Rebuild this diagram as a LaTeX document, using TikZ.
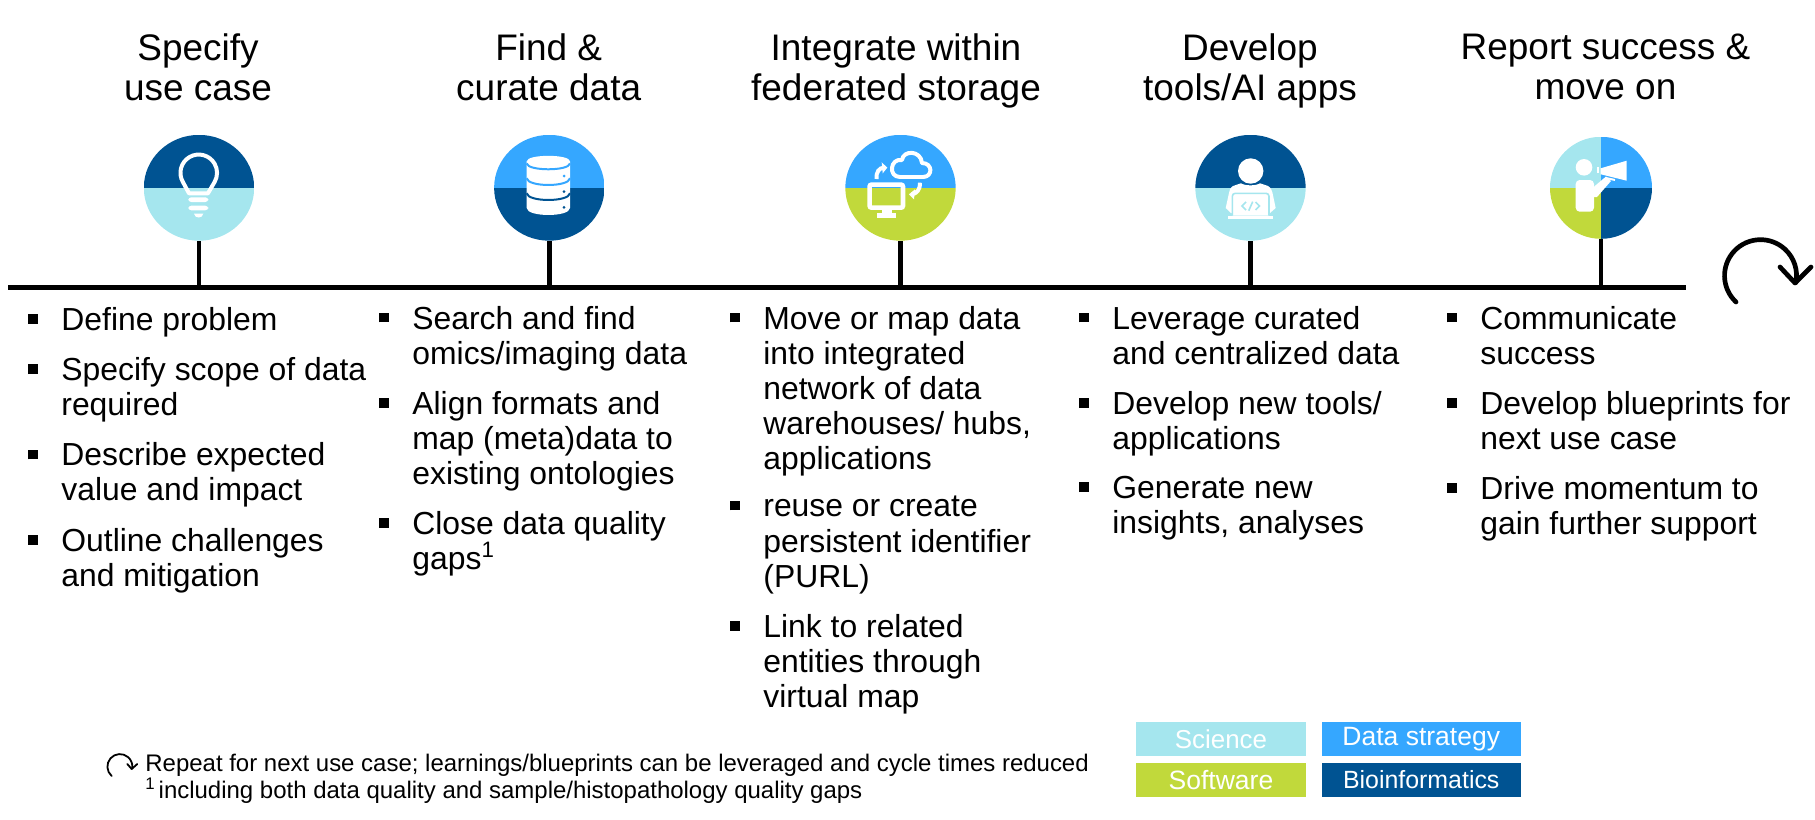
\documentclass[tikz,border=0pt]{standalone}
\usepackage{fontspec}
\setmainfont{Liberation Sans}
\usepackage{tikz}
\usetikzlibrary{positioning,shapes.geometric}
\definecolor{sci}{HTML}{A5E6EE}
\definecolor{strat}{HTML}{35A7FF}
\definecolor{soft}{HTML}{C1D93B}
\definecolor{bio}{HTML}{005392}
\newcommand{\itm}{\hbox to 0pt{\hss\rule[3.3pt]{4.8pt}{4.8pt}\hskip 11.9pt}}
\begin{document}
\begin{tikzpicture}[x=0.5bp,y=-0.5bp,
 head/.style={align=center,inner sep=0pt,font=\fontsize{18.55}{20.3}\selectfont,execute at begin node=\strut,execute at end node=\strut},
 item/.style={align=left,inner sep=0pt,anchor=north west,font=\fontsize{16}{17.6}\selectfont,execute at begin node=\strut,execute at end node=\strut},
 nxt/.style={below right=7.9pt and 0pt of #1.south west},
 halfdisc/.style 2 args={ellipse,inner sep=0pt,minimum width=55.4pt,minimum height=53.1pt,path picture={
  \fill[#1] (path picture bounding box.north west) rectangle (path picture bounding box.east);
  \fill[#2] (path picture bounding box.west) rectangle (path picture bounding box.south east);}},
 stem/.style={line width=2.4pt},
 cyc/.style={line cap=round,line join=round,line width=#1},
 legbox/.style={inner sep=0pt,text=white,minimum width=85.3pt,minimum height=17.1pt,font=\fontsize{#1}{14}\selectfont},
 legbox/.default=12.5]
\useasboundingbox (0,0) rectangle (1815,820);
\coordinate (ls) at (8,287.3);\coordinate (le) at (1686,287.3);
\draw[line width=2.5pt] (ls)--(le);
% headings
\node[head] (h1) at (198,73) {Specify\\use case};
\node[head] (h2) at (548.7,73) {Find \&\\curate data};
\node[head] (h3) at (896,73) {Integrate within\\federated storage};
\node[head] (h4) at (1250,73) {Develop\\tools/AI apps};
\node[head] (h5) at (1605.5,73) {Report success \&\\move on};
% discs and stems
\node[halfdisc={bio}{sci}] (c1) at (199,187.8) {};
\node[halfdisc={strat}{bio}] (c2) at (549.3,187.8) {};
\node[halfdisc={strat}{soft}] (c3) at (900.5,187.8) {};
\node[halfdisc={bio}{sci}] (c4) at (1250.5,187.8) {};
\node[circle,inner sep=0pt,minimum size=51.2pt,path picture={
  \fill[sci] (path picture bounding box.north west) rectangle (path picture bounding box.center);
  \fill[strat] (path picture bounding box.north east) rectangle (path picture bounding box.center);
  \fill[soft] (path picture bounding box.south west) rectangle (path picture bounding box.center);
  \fill[bio] (path picture bounding box.south east) rectangle (path picture bounding box.center);}] (c5) at (1601,187.8) {};
\foreach \c in {c1,c2,c3,c4,c5} \draw[stem] (\c.south)--(\c.south |- ls);
% bulb
\draw[white,line width=2pt,line join=round] (189,193.3)--(182.9,182) arc[start angle=150,end angle=390,radius=18.3]--(208,193.3)--cycle;
\fill[white,rounded corners=1.5pt] (188.3,197.3) rectangle (208.3,202);
\fill[white,rounded corners=1.5pt] (188.3,205.7) rectangle (208.3,210.3);
\fill[white] (194,213.7)--(203.3,213.7) .. controls (202.5,218.8) and (194.8,218.8) .. cycle;
% database
\fill[white] (526.7,161.3)--(526.7,208) .. controls (527,217.3) and (569.7,217.3) .. (570,208)--(570,161.3) .. controls (569.7,154) and (527,154) .. cycle;
\draw[strat,line width=1pt] (526.7,163.5) .. controls (528,171.2) and (568.7,171.2) .. (570,163.5);
\draw[strat,line width=1pt] (526.7,178.3) .. controls (528,187.2) and (568.7,187.2) .. (570,178.3);
\draw[bio,line width=1pt] (526.7,193.3) .. controls (528,202.2) and (568.7,202.2) .. (570,193.3);
\fill[strat] (564,176) circle (1.5);\fill[bio] (564,191.7) circle (1.5);\fill[bio] (564,207.3) circle (1.5);
% monitor and cloud
\draw[white,line width=2.3pt,rounded corners=1pt] (869.6,184.6) rectangle (903,207.7);
\fill[white] (881.7,210)rectangle(891.7,214);\fill[white] (876.7,213.3)rectangle(896,217.7);
\draw[white,line width=2pt,line join=round] (900,177)--(923,177) .. controls (933,177) and (933,163) .. (922,163) .. controls (921,150) and (903,150) .. (902,160) .. controls (890,158) and (888,177) .. (900,177)--cycle;
\draw[white,line width=2pt] (876.5,179) .. controls (876,172) and (879,168) .. (884,167.5);
\fill[white] (881.7,162.3)--(887.3,167.7)--(882.7,173.3)--cycle;
\draw[white,line width=2pt] (920,182.7) .. controls (920,190) and (917,193) .. (912,194.5);
\fill[white] (909,194.3)--(914,199.3)--(915,189.3)--cycle;
% developer
\fill[white] (1250.7,171) circle (12.7);
\fill[white] (1241,183.3) .. controls (1245,186) and (1256,186) .. (1260,183.3)--(1268,186) .. controls (1271,188) and (1272,190) .. (1272.5,193)--(1275.7,208)--(1270,213)--(1231,213)--(1225.7,208)--(1229,193) .. controls (1229.5,190) and (1230,188) .. (1233,186)--cycle;
\draw[sci,line width=0.8pt,fill=white,rounded corners=1.5pt] (1232.3,215.5)--(1232.3,193.3)--(1269,193.3)--(1269,215.5);
\fill[white] (1227.7,216)rectangle(1273.3,219);
\draw[sci,line width=0.8pt] (1246,202)--(1242,206)--(1246,210) (1255.5,202)--(1259.5,206)--(1255.5,210) (1252.7,201.7)--(1248.7,210.7);
% speaker
\fill[white] (1584,167.3) circle (8.3);
\fill[white,rounded corners=2pt] (1575.7,211.7)--(1575.7,180)--(1594,180)--(1594,211.7)--cycle;
\fill[white] (1592,186.5)--(1594,186.7)--(1606,176.5)--(1611,181)--(1597,197)--(1592,197)--cycle;
\fill[white] (1600.7,168.3)--(1626.7,160.7)--(1626.7,180.7)--(1600.7,174.3)--cycle;
\fill[white] (1596.7,167.3) rectangle (1598.5,173.3);
\draw[white,line width=1pt] (1606,178)--(1615,180);
% repeat arrow
\draw[cyc=2.35pt] (1736,302) arc[start angle=133,end angle=371,radius=36];
\draw[cyc=2.35pt] (1780,267)--(1795,283)--(1811,267);
% first column
\node[item] (a1) at (61,305.5) {\itm Define problem};
\node[item,nxt=a1] (a2) {\itm Specify scope of data\\required};
\node[item,nxt=a2] (a3) {\itm Describe expected\\value and impact};
\node[item,nxt=a3] (a4) {\itm Outline challenges\\and mitigation};
% second column
\node[item] (b1) at (412,305.5) {\itm Search and find\\omics/imaging data};
\node[item,nxt=b1] (b2) {\itm Align formats and\\map (meta)data to\\existing ontologies};
\node[item,nxt=b2] (b3) {\itm Close data quality\\gaps\textsuperscript{1}};
% third column
\node[item] (d1) at (763,305.5) {\itm Move or map data\\into integrated\\network of data\\warehouses/ hubs,\\applications};
\node[item,nxt=d1] (d2) {\itm reuse or create\\persistent identifier\\(PURL)};
\node[item,nxt=d2] (d3) {\itm Link to related\\entities through\\virtual map};
% fourth column
\node[item] (e1) at (1112,305.5) {\itm Leverage curated\\and centralized data};
\node[item,nxt=e1] (e2) {\itm Develop new tools/\\applications};
\node[item,nxt=e2] (e3) {\itm Generate new\\insights, analyses};
% fifth column
\node[item] (f1) at (1480,305.5) {\itm Communicate\\success};
\node[item,nxt=f1] (f2) {\itm Develop blueprints for\\next use case};
\node[item,nxt=f2] (f3) {\itm Drive momentum to\\gain further support};
% footer
\draw[cyc=0.9pt] (111.7,776) arc[start angle=131,end angle=369,radius=12.5];
\draw[cyc=0.9pt] (127.3,764)--(131.7,769)--(137.3,764);
\node[align=left,inner sep=0pt,anchor=north west,font=\fontsize{12.03}{13.3}\selectfont] (foot) at (145,754) {Repeat for next use case; learnings/blueprints can be leveraged and cycle times reduced\\\textsuperscript{1}\kern1.5pt including both data quality and sample/histopathology quality gaps};
% legend
\node[legbox=13,fill=sci] (lsci) at (1221,739) {Science};
\node[legbox=13.3,fill=soft,below=3pt of lsci] (lsoft) {Software};
\node[legbox=13.3,fill=strat,minimum width=99.9pt,right=7.5pt of lsci] (lstrat) {Data strategy};
\node[legbox,fill=bio,minimum width=99.9pt,right=7.5pt of lsoft] (lbio) {Bioinformatics};
\end{tikzpicture}
\end{document}
